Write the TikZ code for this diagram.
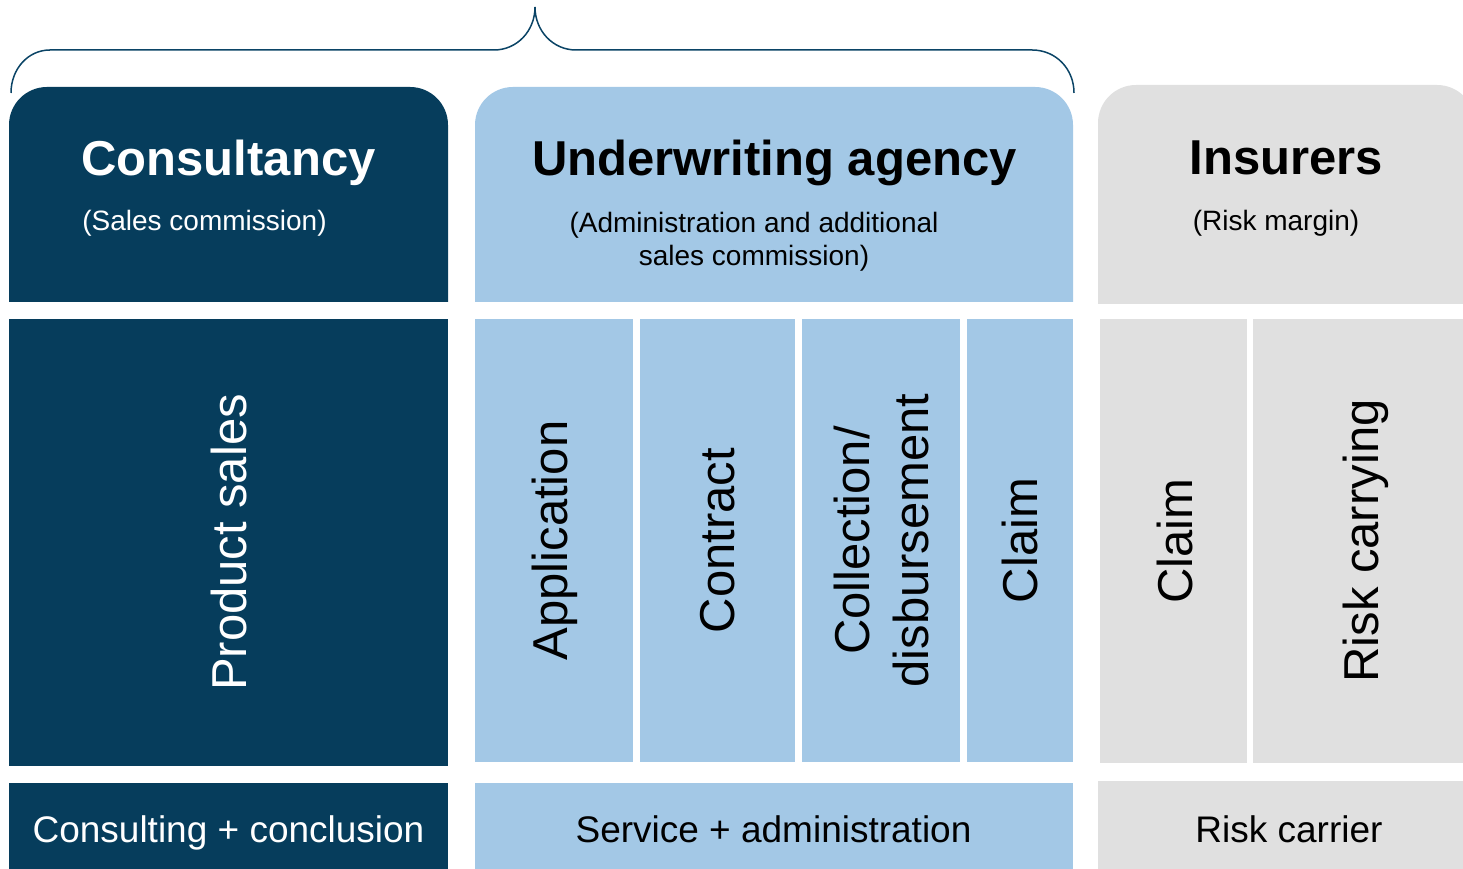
\documentclass[tikz,border=0pt]{standalone}
\usepackage{fontspec}
\setmainfont{Liberation Sans}
\definecolor{navy}{HTML}{063D5C}
\definecolor{lblue}{HTML}{A3C8E6}
\definecolor{lgrey}{HTML}{E0E0E0}
\definecolor{bracec}{HTML}{0B4466}
\tikzset{
  titletext/.style={font=\fontsize{49}{59}\selectfont\bfseries, anchor=base, inner sep=0pt},
  subtext/.style={font=\fontsize{28}{33}\selectfont, align=center, inner sep=0pt},
  verttext/.style={font=\fontsize{49}{59}\selectfont, rotate=90, align=center, inner sep=0pt},
  bottomtext/.style={font=\fontsize{37}{44}\selectfont, anchor=base, inner sep=0pt},
}
\newcommand{\topbox}[5]{% color, x1, x2, ybot, ytop
  \fill[#1] (#2,#4) -- (#2,#5-38) arc[start angle=180,end angle=90,radius=38] -- (#3-38,#5) arc[start angle=90,end angle=0,radius=38] -- (#3,#4) -- cycle;}
\begin{document}
\begin{tikzpicture}[x=1pt,y=1pt]
\useasboundingbox (0,0) rectangle (1463,869);
\clip (0,0) rectangle (1463,869);
% top boxes
\topbox{navy}{9}{448}{567}{782}
\topbox{lblue}{475}{1073}{567}{782}
\topbox{lgrey}{1098}{1475}{565}{784}
% middle row
\fill[navy] (9,103) rectangle (448,550);
\fill[lblue] (475,107) rectangle (633,550);
\fill[lblue] (640,107) rectangle (795,550);
\fill[lblue] (802,107) rectangle (960,550);
\fill[lblue] (967,107) rectangle (1073,550);
\fill[lgrey] (1100,106) rectangle (1247,550);
\fill[lgrey] (1253,106) rectangle (1475,550);
% bottom row
\fill[navy] (9,-11) rectangle (448,86);
\fill[lblue] (475,-11) rectangle (1073,86);
\fill[lgrey] (1098,-11) rectangle (1475,88);
% brace
\coordinate (bl) at (11,776);
\coordinate (bt) at (535,862);
\coordinate (br) at (1074,776);
\draw[bracec, line width=1.5pt] (bl) .. controls (11,800) and (28,819) .. (50,819) -- (494,819)
  .. controls (517,819) and (535,838) .. (bt)
  .. controls (535,838) and (553,819) .. (576,819) -- (1032,819)
  .. controls (1056,819) and (1074,800) .. (br);
% titles
\node[titletext, text=white] (t1) at (228.5,693) {Consultancy};
\node[titletext] (t2) at (774.5,693) {Underwriting agency};
\node[titletext] (t3) at (1286.5,694) {Insurers};
\node[subtext, text=white, anchor=base] (s1) at (204.5,638) {(Sales commission)};
\node[subtext] (s2) at (754,627.7) {(Administration and additional\\sales commission)};
\node[subtext, anchor=base] (s3) at (1276,638) {(Risk margin)};
% vertical labels
\node[verttext, text=white] (v1) at (228.5,326.5) {Product sales};
\node[verttext] (v2) at (555,328.5) {Application};
\node[verttext] (v3) at (717.5,328.5) {Contract};
\node[verttext] (v4) at (881,328.5) {Collection/\\disbursement};
\node[verttext] (v5) at (1020,328.5) {Claim};
\node[verttext] (v6) at (1174.5,328) {Claim};
\node[verttext] (v7) at (1366,328) {Risk carrying};
% bottom labels
\node[bottomtext, text=white] (b1) at (228.5,26) {Consulting + conclusion};
\node[bottomtext] (b2) at (773.5,26) {Service + administration};
\node[bottomtext] (b3) at (1289,26) {Risk carrier};
\end{tikzpicture}
\end{document}
